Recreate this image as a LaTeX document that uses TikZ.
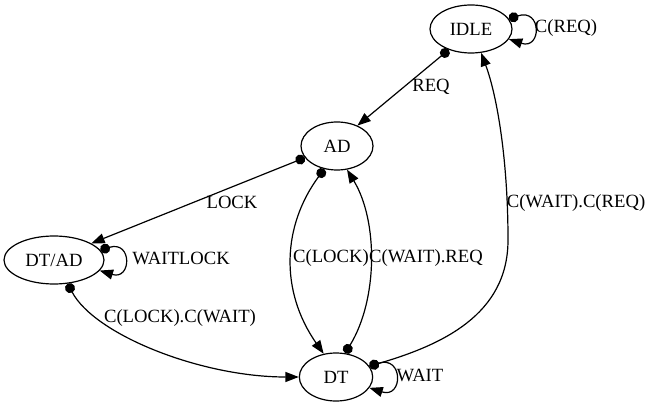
\documentclass[tikz,border=0pt]{standalone}
\usepackage{fontspec}
\setmainfont{Liberation Serif}
\usetikzlibrary{shapes.geometric,arrows.meta}
\begin{document}
\begin{tikzpicture}[x=0.75pt,y=0.75pt,
  state/.style={draw,ellipse,minimum height=36pt,inner sep=0pt,font=\fontsize{14}{16}\selectfont,line width=0.9pt},
  lbl/.style={inner sep=0pt,font=\fontsize{14}{16}\selectfont},
  edge/.style={draw,line width=0.9pt,{Circle[length=7.5pt]}-{Triangle[length=10pt,width=7.5pt]}}]
\useasboundingbox (0,0) rectangle (652,407);
\node[state,minimum width=61.5pt] (idle) at (471,378) {IDLE};
\node[state,minimum width=54pt] (ad) at (337,261) {AD};
\node[state,minimum width=75pt] (dtad) at (54,147) {DT/AD};
\node[state,minimum width=55pt] (dt) at (336,30) {DT};
\coordinate (w1) at (508,167);
% edges
\draw[edge] (idle.223) -- (ad.45);
\draw[edge] (idle.15) .. controls +(33,11) and +(33,-11) .. (idle.-15);
\draw[edge] (ad.200) -- (dtad.24);
\draw[edge] (dtad.12) .. controls +(32,10) and +(32,-10) .. (dtad.-13);
\draw[edge] (dtad.-60) .. controls +(27,-51) and +(-98,0) .. (dt.west);
\draw[edge] (ad.-119) .. controls +(-42,-57) and +(-44,63) .. (dt.118);
\draw[edge] (dt.69) .. controls +(33,54) and +(31,-51) .. (ad.-67);
\draw[edge] (dt.18) .. controls +(72,21) and +(0,-75) .. (w1) .. controls +(0,80) and +(16,-43) .. (idle.-67);
\draw[edge] (dt.18) .. controls +(34,11) and +(34,-11) .. (dt.-18);
% labels
\node[lbl] (lreq) at (431,320) {REQ};
\node[lbl] (lcreq) at (566,379) {C(REQ)};
\node[lbl] (llock) at (232,205) {LOCK};
\node[lbl] (lwaitlock) at (181,149) {WAITLOCK};
\node[lbl] (lclcw) at (180,89) {C(LOCK).C(WAIT)};
\node[lbl] (lclock) at (331,149) {C(LOCK)};
\node[lbl] (lcwreq) at (426,149) {C(WAIT).REQ};
\node[lbl] (lcwcr) at (576,204) {C(WAIT).C(REQ)};
\node[lbl] (lwait) at (420,32) {WAIT};
\end{tikzpicture}
\end{document}
